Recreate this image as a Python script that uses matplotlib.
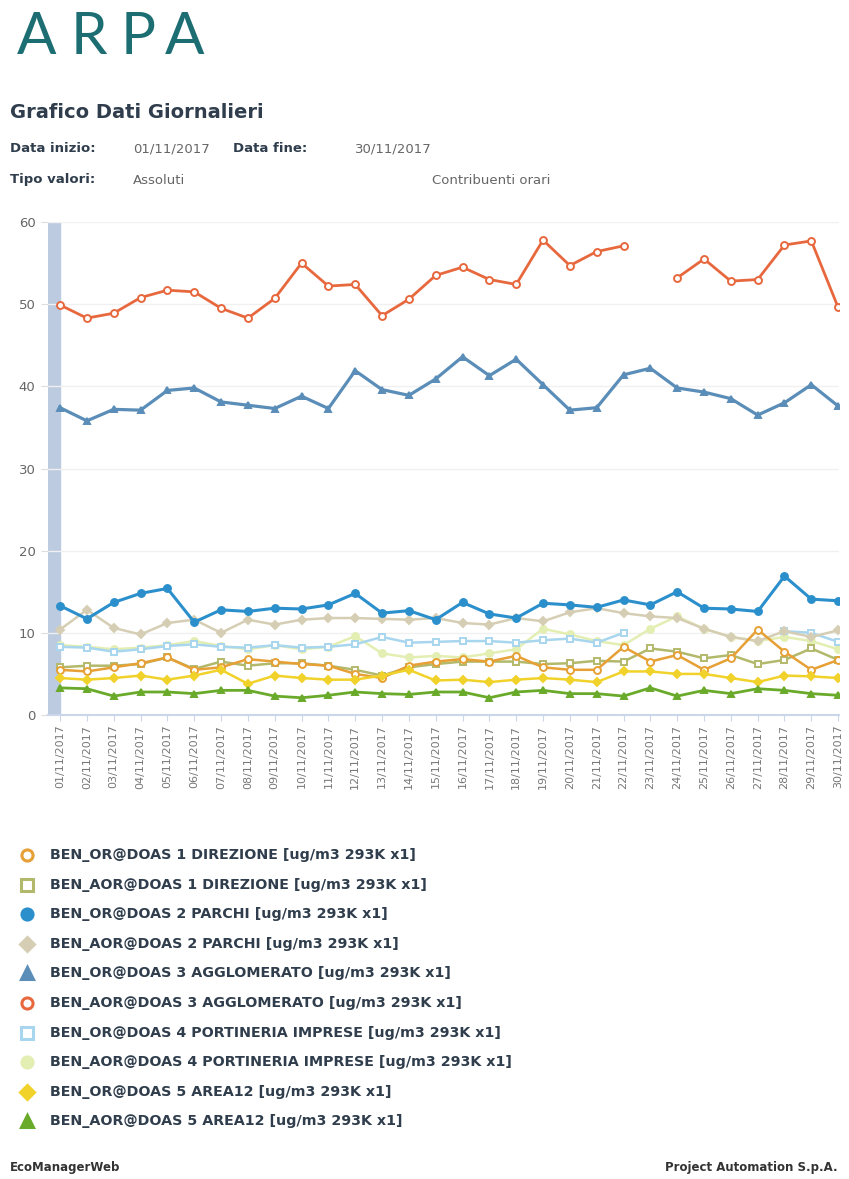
import numpy as np
import matplotlib
matplotlib.use("Agg")
import matplotlib.pyplot as plt

nan = np.nan

# days of november 2017
giorni = ["%02d/11/2017" % d for d in range(1, 31)]

# values (ug/m3)
or_1_direzione = [5.5, 5.3, 5.8, 6.3, 7.0, 5.5, 5.8, 6.8, 6.5, 6.2, 6.0, 5.0, 4.5, 6.0, 6.5,
                  6.8, 6.5, 7.2, 5.8, 5.5, 5.5, 8.3, 6.5, 7.3, 5.5, 6.9, 10.4, 7.7, 5.5, 6.7]
aor_1_direzione = [5.8, 6.0, 6.0, 6.2, 7.0, 5.6, 6.5, 6.0, 6.3, 6.3, 6.0, 5.5, 4.8, 5.8, 6.2,
                   6.5, 6.5, 6.5, 6.2, 6.3, 6.6, 6.5, 8.1, 7.7, 6.9, 7.3, 6.2, 6.7, 8.1, 6.7]
or_2_parchi = [13.3, 11.7, 13.7, 14.8, 15.4, 11.3, 12.8, 12.6, 13.0, 12.9, 13.4, 14.8, 12.4, 12.7, 11.6,
               13.7, 12.3, 11.8, 13.6, 13.4, 13.1, 14.0, 13.4, 15.0, 13.0, 12.9, 12.6, 16.9, 14.1, 13.9]
aor_2_parchi = [10.4, 12.8, 10.6, 9.8, 11.2, 11.6, 10.0, 11.6, 11.0, 11.6, 11.8, 11.8, 11.7, 11.6, 11.8,
                11.2, 11.0, 11.8, 11.4, 12.5, 13.0, 12.4, 12.0, 11.8, 10.5, 9.5, 9.0, 10.2, 9.5, 10.3]
or_3_agglomerato = [37.4, 35.8, 37.2, 37.1, 39.5, 39.8, 38.1, 37.7, 37.3, 38.8, 37.3, 41.9, 39.6, 38.9, 40.9,
                    43.6, 41.3, 43.3, 40.2, 37.1, 37.4, 41.4, 42.2, 39.8, 39.3, 38.5, 36.5, 38.0, 40.2, 37.6]
aor_3_agglomerato = [49.9, 48.3, 48.9, 50.8, 51.7, 51.5, 49.5, 48.3, 50.7, 55.0, 52.2, 52.4, 48.6, 50.6, 53.5,
                     54.5, 53.0, 52.4, 57.8, 54.7, 56.4, 57.1, nan, 53.2, 55.5, 52.8, 53.0, 57.2, 57.7, 49.6]
or_4_portineria = [8.3, 8.2, 7.7, 8.0, 8.4, 8.6, 8.3, 8.2, 8.5, 8.2, 8.3, 8.6, 9.5, 8.8, 8.9,
                   9.0, 9.0, 8.8, 9.1, 9.3, 8.8, 10.0, nan, nan, nan, nan, nan, 10.2, 10.0, 8.9]
aor_4_portineria = [8.5, 8.3, 8.0, 8.2, 8.5, 9.0, 8.4, 8.0, 8.5, 8.0, 8.3, 9.6, 7.5, 7.0, 7.2,
                    7.0, 7.5, 8.0, 10.5, 9.8, 9.0, 8.5, 10.5, 12.0, 10.5, 9.5, 9.0, 9.5, 9.0, 8.0]
or_5_area12 = [4.5, 4.3, 4.5, 4.8, 4.3, 4.8, 5.5, 3.8, 4.8, 4.5, 4.3, 4.3, 4.8, 5.5, 4.2,
               4.3, 4.0, 4.3, 4.5, 4.3, 4.0, 5.3, 5.3, 5.0, 5.0, 4.5, 4.0, 4.8, 4.7, 4.5]
aor_5_area12 = [3.3, 3.2, 2.3, 2.8, 2.8, 2.6, 3.0, 3.0, 2.3, 2.1, 2.4, 2.8, 2.6, 2.5, 2.8,
                2.8, 2.1, 2.8, 3.0, 2.6, 2.6, 2.3, 3.3, 2.3, 3.0, 2.6, 3.2, 3.0, 2.6, 2.4]

nomi = [
    "BEN_OR@DOAS 1 DIREZIONE [ug/m3 293K x1]",
    "BEN_AOR@DOAS 1 DIREZIONE [ug/m3 293K x1]",
    "BEN_OR@DOAS 2 PARCHI [ug/m3 293K x1]",
    "BEN_AOR@DOAS 2 PARCHI [ug/m3 293K x1]",
    "BEN_OR@DOAS 3 AGGLOMERATO [ug/m3 293K x1]",
    "BEN_AOR@DOAS 3 AGGLOMERATO [ug/m3 293K x1]",
    "BEN_OR@DOAS 4 PORTINERIA IMPRESE [ug/m3 293K x1]",
    "BEN_AOR@DOAS 4 PORTINERIA IMPRESE [ug/m3 293K x1]",
    "BEN_OR@DOAS 5 AREA12 [ug/m3 293K x1]",
    "BEN_AOR@DOAS 5 AREA12 [ug/m3 293K x1]",
]
serie = [or_1_direzione, aor_1_direzione, or_2_parchi, aor_2_parchi, or_3_agglomerato,
         aor_3_agglomerato, or_4_portineria, aor_4_portineria, or_5_area12, aor_5_area12]

# style per series: color, marker, filled, linewidth
stili = [
    ("#e6a035", "o", False, 1.8),
    ("#b3b96a", "s", False, 1.8),
    ("#2b8fcc", "o", True, 2.2),
    ("#d6ceb4", "D", True, 1.8),
    ("#5a8db8", "^", True, 2.3),
    ("#e8683e", "o", False, 2.0),
    ("#a8d6ee", "s", False, 1.8),
    ("#e3eeb2", "o", True, 1.8),
    ("#f0d22a", "D", True, 1.8),
    ("#6aaa2a", "^", True, 2.0),
]

fig = plt.figure(figsize=(8.49, 11.79), dpi=100)

# header: logo letters spaced out one by one
logo_x = [37, 89, 138, 185]
for lx, lettera in zip(logo_x, "ARPA"):
    fig.text(lx/849, 1 - 37/1179, lettera, fontsize=42, color="#1d6e72", family="Lato",
             va="center", ha="center")
fig.text(10/849, 1 - 113/1179, "Grafico Dati Giornalieri", fontsize=14, fontweight="bold",
         color="#2f3d4c", va="center")
fig.text(10/849, 1 - 149/1179, "Data inizio:", fontsize=9.5, fontweight="bold", color="#2f3d4c", va="center")
fig.text(133/849, 1 - 149/1179, "01/11/2017", fontsize=9.5, color="#666666", va="center")
fig.text(233/849, 1 - 149/1179, "Data fine:", fontsize=9.5, fontweight="bold", color="#2f3d4c", va="center")
fig.text(355/849, 1 - 149/1179, "30/11/2017", fontsize=9.5, color="#666666", va="center")
fig.text(10/849, 1 - 180/1179, "Tipo valori:", fontsize=9.5, fontweight="bold", color="#2f3d4c", va="center")
fig.text(133/849, 1 - 180/1179, "Assoluti", fontsize=9.5, color="#666666", va="center")
fig.text(432/849, 1 - 180/1179, "Contribuenti orari", fontsize=9.5, color="#666666", va="center")

ax = fig.add_axes([48/849, 1 - 715/1179, 791.5/849, 493/1179])
x = np.arange(len(giorni))

ax.axvspan(-0.45, 0, color="#bccbe0", zorder=0)

# draw faint series first, the strong ones on top
ordine = [7, 6, 3, 1, 0, 8, 9, 2, 4, 5]
for i in ordine:
    col, mk, piena, lw = stili[i]
    ax.plot(x, serie[i], color=col, linewidth=lw, marker=mk, markersize=5 if mk != "D" else 4.3,
            markerfacecolor=col if piena else "white", markeredgecolor=col, markeredgewidth=1.4,
            zorder=3)

ax.set_xlim(-0.45, 29.05)
ax.set_ylim(0, 60)
ax.set_yticks([0, 10, 20, 30, 40, 50, 60])
ax.set_xticks(x)
ax.set_xticklabels(giorni, rotation=90, fontsize=8, color="#777777")
ax.tick_params(axis="y", labelsize=9.5, labelcolor="#666666", length=5, color="#dddddd", pad=4)
ax.tick_params(axis="x", length=4, color="#ccd6eb", pad=3)
ax.grid(axis="y", color="#f0f0f0", linewidth=1)
ax.set_axisbelow(True)
for s in ["top", "right", "left"]:
    ax.spines[s].set_visible(False)
ax.spines["bottom"].set_color("#ccd6eb")
ax.spines["bottom"].set_linewidth(1.5)

# legend drawn by hand in figure coordinates
y0 = 855
passo = 29.6
for k in range(len(nomi)):
    col, mk, piena, lw = stili[k]
    yy = 1 - (y0 + k * passo) / 1179
    fig.lines.append(plt.Line2D([27/849], [yy], transform=fig.transFigure, marker=mk,
                                markersize=8 if mk != "D" else 7, color=col,
                                markerfacecolor=col if piena else "white",
                                markeredgecolor=col, markeredgewidth=2.2, linestyle="none"))
    fig.text(50/849, yy, nomi[k], fontsize=10.3, fontweight="bold", color="#2f3d4c", va="center")

# footer
fig.text(10/849, 1 - 1167/1179, "EcoManagerWeb", fontsize=8.5, fontweight="bold", color="#333333", va="center")
fig.text(838/849, 1 - 1167/1179, "Project Automation S.p.A.", fontsize=8.5, fontweight="bold",
         color="#333333", va="center", ha="right")

fig.savefig("out.png", dpi=100)
